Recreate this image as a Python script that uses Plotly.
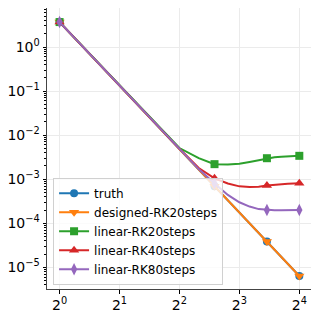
import plotly.graph_objects as go

steps = list(range(1, 17))
truth = [3.68, 0.134, 0.0192, 4.85e-3, 1.67e-3, 6.98e-4, 3.34e-4, 1.76e-4,
         1.0e-4, 6.05e-5, 3.85e-5, 2.53e-5, 1.73e-5, 1.21e-5, 8.7e-6, 6.4e-6]
designed_rk20 = [3.68, 0.134, 0.0192, 4.85e-3, 1.67e-3, 6.98e-4, 3.34e-4, 1.76e-4,
                 1.0e-4, 6.05e-5, 3.85e-5, 2.53e-5, 1.73e-5, 1.21e-5, 8.7e-6, 6.4e-6]
linear_rk20 = [3.68, 0.134, 0.0192, 5.1e-3, 3.0e-3, 2.2e-3, 2.15e-3, 2.25e-3,
               2.46e-3, 2.73e-3, 3.0e-3, 3.15e-3, 3.25e-3, 3.3e-3, 3.35e-3, 3.4e-3]
linear_rk40 = [3.68, 0.134, 0.0192, 4.9e-3, 1.8e-3, 1.05e-3, 8.0e-4, 6.9e-4,
               6.7e-4, 6.8e-4, 7.2e-4, 7.5e-4, 7.7e-4, 7.9e-4, 8.0e-4, 8.1e-4]
linear_rk80 = [3.68, 0.134, 0.0192, 4.85e-3, 1.7e-3, 8.0e-4, 4.4e-4, 3.0e-4,
               2.4e-4, 2.1e-4, 2.0e-4, 1.98e-4, 1.97e-4, 1.98e-4, 2.0e-4, 2.0e-4]

series = [
    ("truth", truth, "#1f77b4", "circle", 8),
    ("designed-RK20steps", designed_rk20, "#ff7f0e", "triangle-down", 9),
    ("linear-RK20steps", linear_rk20, "#2ca02c", "square", 8),
    ("linear-RK40steps", linear_rk40, "#d62728", "triangle-up", 9),
    ("linear-RK80steps", linear_rk80, "#9467bd", "diamond-tall", 9),
]

x_tickvals = [1, 2, 4, 8, 16]
x_ticktext = ["2<sup>0</sup>", "2<sup>1</sup>", "2<sup>2</sup>", "2<sup>3</sup>", "2<sup>4</sup>"]
y_tickvals = [1, 1e-1, 1e-2, 1e-3, 1e-4, 1e-5]
y_ticktext = ["10<sup>0</sup>", "10<sup>\u22121</sup>", "10<sup>\u22122</sup>",
              "10<sup>\u22123</sup>", "10<sup>\u22124</sup>", "10<sup>\u22125</sup>"]

fig = go.Figure()
for name, ys, color, sym, ms in series:
    fig.add_trace(go.Scatter(x=steps, y=ys, mode="lines",
                             line=dict(color=color, width=2),
                             showlegend=False, hoverinfo="skip"))
    mx = steps[::5]
    my = ys[::5]
    fig.add_trace(go.Scatter(x=mx, y=my, mode="markers",
                             marker=dict(color=color, symbol=sym, size=ms, line=dict(width=0)),
                             showlegend=False))
for name, ys, color, sym, ms in series:
    fig.add_trace(go.Scatter(x=[None], y=[None], mode="lines+markers", name=name,
                             line=dict(color=color, width=2),
                             marker=dict(color=color, symbol=sym, size=ms)))

minor_y = []
for k in range(-6, 2):
    for m in range(2, 10):
        minor_y.append(m * 10.0 ** k)

fig.update_layout(
    width=311, height=311,
    margin=dict(l=39, r=8, t=0, b=30),
    paper_bgcolor="white", plot_bgcolor="white",
    font=dict(family="DejaVu Sans", color="black", size=14),
    showlegend=True,
    legend=dict(x=0.023, y=0.015, xanchor="left", yanchor="bottom",
                bgcolor="rgba(255,255,255,0.8)", bordercolor="#d0d0d0", borderwidth=1,
                font=dict(size=12, family="DejaVu Sans"), tracegroupgap=0,
                itemwidth=30),
)
fig.update_xaxes(type="log", range=[-0.0632, 1.2628], automargin=False,
                 tickmode="array", tickvals=x_tickvals, ticktext=x_ticktext,
                 ticks="outside", ticklen=3.5, tickcolor="black",
                 showgrid=True, gridcolor="#ebebeb", gridwidth=1,
                 showline=True, linecolor="#444", linewidth=1, mirror=True,
                 zeroline=False, tickfont=dict(size=14))
fig.update_yaxes(type="log", range=[-5.49, 0.885], automargin=False,
                 tickmode="array", tickvals=y_tickvals, ticktext=y_ticktext,
                 ticks="outside", ticklen=3.5, tickcolor="black",
                 minor=dict(tickmode="array", tickvals=minor_y, ticks="outside",
                            ticklen=2, tickcolor="black", showgrid=False),
                 showgrid=True, gridcolor="#ebebeb", gridwidth=1,
                 showline=True, linecolor="#444", linewidth=1, mirror=True,
                 zeroline=False, tickfont=dict(size=14))

fig.write_html("out.html")
